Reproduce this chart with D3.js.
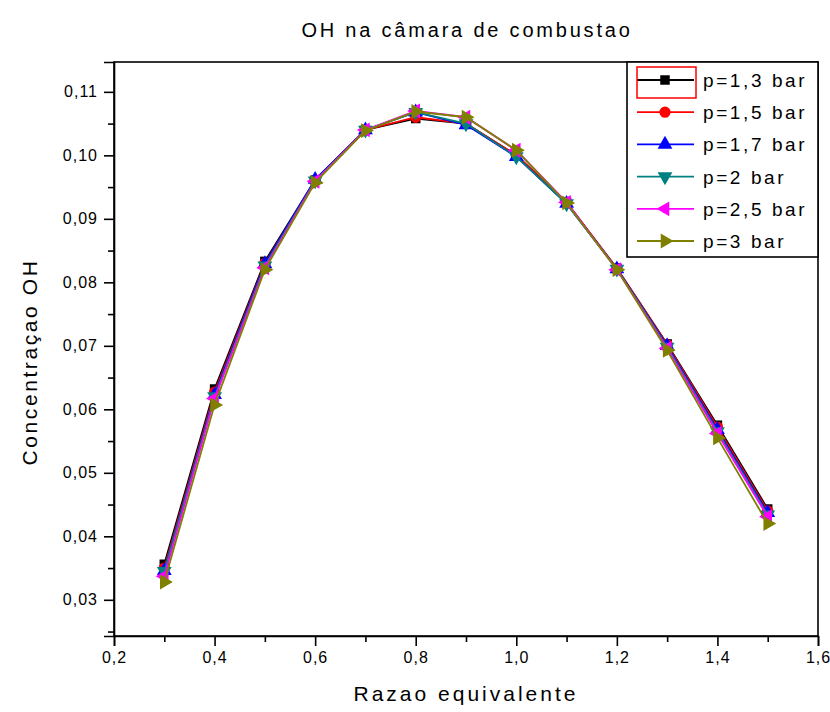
<!DOCTYPE html>
<html>
<head>
<meta charset="utf-8">
<script src="https://cdn.jsdelivr.net/npm/d3@7"></script>
<style>
  body { margin: 0; background: #fff; }
  svg { display: block; font-family: "Liberation Sans", Arial, sans-serif; }
</style>
</head>
<body>
<svg id="chart" width="830" height="712"></svg>
<script>
// OH concentration vs equivalence ratio, one series per pressure
const razao = [0.3, 0.4, 0.5, 0.6, 0.7, 0.8, 0.9, 1.0, 1.1, 1.2, 1.3, 1.4, 1.5];

const p13 = [0.0356, 0.0632, 0.0833, 0.0961, 0.1040, 0.1058, 0.1050, 0.1000, 0.0926, 0.0822, 0.0703, 0.0575, 0.0443];
const p15 = [0.0350, 0.0627, 0.0830, 0.0960, 0.1040, 0.1060, 0.1050, 0.1000, 0.0926, 0.0822, 0.0702, 0.0572, 0.0440];
const p17 = [0.0346, 0.0623, 0.0829, 0.0962, 0.1040, 0.1068, 0.1048, 0.0998, 0.0924, 0.0821, 0.0700, 0.0568, 0.0437];
const p20 = [0.0345, 0.0620, 0.0826, 0.0960, 0.1040, 0.1068, 0.1050, 0.0998, 0.0924, 0.0821, 0.0698, 0.0565, 0.0434];
const p25 = [0.0337, 0.0617, 0.0823, 0.0959, 0.1040, 0.1070, 0.1060, 0.1008, 0.0926, 0.0820, 0.0696, 0.0562, 0.0431];
const p30 = [0.0328, 0.0607, 0.0820, 0.0957, 0.1039, 0.1069, 0.1060, 0.1008, 0.0925, 0.0820, 0.0693, 0.0555, 0.0420];

const seriesNames = ['p=1,3 bar', 'p=1,5 bar', 'p=1,7 bar', 'p=2 bar', 'p=2,5 bar', 'p=3 bar'];
const seriesValues = [p13, p15, p17, p20, p25, p30];

const xTicks = [0.2, 0.4, 0.6, 0.8, 1.0, 1.2, 1.4, 1.6];
const yTicks = [0.03, 0.04, 0.05, 0.06, 0.07, 0.08, 0.09, 0.10, 0.11];

const colors = ['#000000', '#ff0000', '#0000ff', '#008080', '#ff00ff', '#808000'];
const symbols = ['square', 'circle', 'up', 'down', 'left', 'right'];

const svg = d3.select('#chart');
const plot = { left: 114, right: 818, top: 62, bottom: 636 };

const x = d3.scaleLinear().domain([0.2, 1.6]).range([plot.left, plot.right]);
const y = d3.scaleLinear().domain([0.0243, 0.1147]).range([plot.bottom, plot.top]);

const fmt2 = d => d.toFixed(2).replace('.', ',');
const fmt1 = d => d.toFixed(1).replace('.', ',');

// frame
svg.append('rect')
  .attr('x', plot.left).attr('y', plot.top)
  .attr('width', plot.right - plot.left).attr('height', plot.bottom - plot.top)
  .attr('fill', 'none').attr('stroke', '#000').attr('stroke-width', 1.6);

// x axis
svg.append('g')
  .attr('transform', `translate(0,${plot.bottom})`)
  .call(d3.axisBottom(x).tickValues(xTicks).tickFormat(fmt1).tickSize(10).tickPadding(6));
svg.append('g')
  .attr('transform', `translate(0,${plot.bottom})`)
  .call(d3.axisBottom(x).tickValues(d3.range(0.3, 1.6, 0.2)).tickFormat('').tickSize(6))
  .select('.domain').remove();

// y axis
svg.append('g')
  .attr('transform', `translate(${plot.left},0)`)
  .call(d3.axisLeft(y).tickValues(yTicks).tickFormat(fmt2).tickSize(10).tickPadding(6));
svg.append('g')
  .attr('transform', `translate(${plot.left},0)`)
  .call(d3.axisLeft(y).tickValues(d3.range(0.025, 0.1141, 0.01)).tickFormat('').tickSize(6))
  .select('.domain').remove();

svg.selectAll('.domain').attr('stroke-width', 1.6);
svg.selectAll('.tick line').attr('stroke-width', 1.6);
svg.selectAll('.tick text')
  .style('font-size', '16px')
  .style('letter-spacing', '1px')
  .attr('fill', '#000');

// series
const line = d3.line().x(d => x(d[0])).y(d => y(d[1]));
const symbolPath = {
  square: d3.symbol().type(d3.symbolSquare).size(90)(),
  circle: d3.symbol().type(d3.symbolCircle).size(100)(),
  up: d3.symbol().type(d3.symbolTriangle).size(95)()
};

function drawMarker(g, kind, color, px, py) {
  let rot = 0;
  let path;
  if (kind === 'square') path = symbolPath.square;
  else if (kind === 'circle') path = symbolPath.circle;
  else {
    path = symbolPath.up;
    rot = { up: 0, down: 180, left: -90, right: 90 }[kind];
  }
  g.append('path')
    .attr('d', path)
    .attr('transform', `translate(${px},${py}) rotate(${rot})`)
    .attr('fill', color);
}

seriesValues.forEach((vals, i) => {
  const pts = razao.map((r, j) => [r, vals[j]]);
  const g = svg.append('g');
  g.append('path')
    .datum(pts)
    .attr('d', line)
    .attr('fill', 'none')
    .attr('stroke', colors[i])
    .attr('stroke-width', 1.8);
  pts.forEach(p => drawMarker(g, symbols[i], colors[i], x(p[0]), y(p[1])));
});

// legend
const leg = svg.append('g');
leg.append('rect')
  .attr('x', 627).attr('y', plot.top)
  .attr('width', plot.right - 627).attr('height', 257 - plot.top)
  .attr('fill', '#fff').attr('stroke', '#000').attr('stroke-width', 1.6);

seriesNames.forEach((name, i) => {
  const cy = 80 + i * 32.2;
  leg.append('line')
    .attr('x1', 637).attr('x2', 694).attr('y1', cy).attr('y2', cy)
    .attr('stroke', colors[i]).attr('stroke-width', 1.8);
  drawMarker(leg, symbols[i], colors[i], 665, cy);
  leg.append('text')
    .attr('x', 703).attr('y', cy + 7)
    .style('font-size', '19px')
    .style('letter-spacing', '2.6px')
    .text(name);
});
leg.append('rect')
  .attr('x', 637).attr('y', 67).attr('width', 59).attr('height', 31)
  .attr('fill', 'none').attr('stroke', '#ff0000').attr('stroke-width', 1.5);

// titles
svg.append('text')
  .attr('x', 467).attr('y', 37)
  .attr('text-anchor', 'middle')
  .style('font-size', '20px')
  .style('letter-spacing', '2.8px')
  .text('OH na câmara de combustao');

svg.append('text')
  .attr('x', 466).attr('y', 701)
  .attr('text-anchor', 'middle')
  .style('font-size', '21px')
  .style('letter-spacing', '3px')
  .text('Razao equivalente');

svg.append('text')
  .attr('transform', 'translate(37,362) rotate(-90)')
  .attr('text-anchor', 'middle')
  .style('font-size', '21px')
  .style('letter-spacing', '2.6px')
  .text('Concentraçao OH');
</script>
</body>
</html>
